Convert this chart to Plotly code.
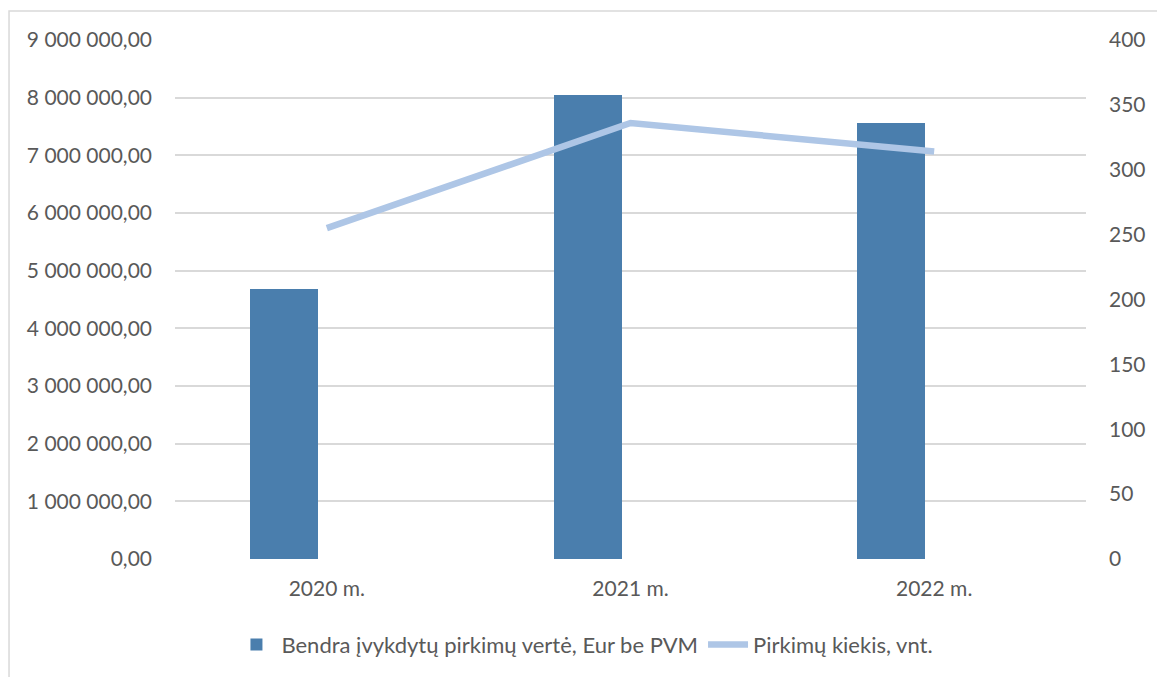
import plotly.graph_objects as go

categories = ["2020 m.", "2021 m.", "2022 m."]
value_eur = [4690000, 8050000, 7560000]
purchase_count = [255, 336, 314]
left_ticks = [0, 1000000, 2000000, 3000000, 4000000, 5000000, 6000000, 7000000, 8000000, 9000000]
left_tick_text = ["0,00", "1 000 000,00", "2 000 000,00", "3 000 000,00", "4 000 000,00",
                  "5 000 000,00", "6 000 000,00", "7 000 000,00", "8 000 000,00", "9 000 000,00"]
right_ticks = [0, 50, 100, 150, 200, 250, 300, 350, 400]

FONT = "Lato"
TXT = "#595959"
xs = list(range(len(categories)))

fig = go.Figure()
fig.add_trace(go.Bar(
    x=xs, y=value_eur, name="Bendra įvykdytų pirkimų vertė, Eur be PVM",
    marker=dict(color="#4a7ead", line=dict(width=0)),
    width=0.224, offset=-0.253, yaxis="y",
))
fig.add_trace(go.Scatter(
    x=xs, y=purchase_count, name="Pirkimų kiekis, vnt.", mode="lines",
    line=dict(color="#aec6e6", width=6.5), yaxis="y2",
))

fig.update_layout(
    width=1157, height=669,
    margin=dict(l=167, r=79, t=32, b=117),
    paper_bgcolor="white", plot_bgcolor="white",
    font=dict(family=FONT, size=21, color=TXT),
    bargap=0,
    xaxis=dict(
        range=[-0.5, 2.5], tickvals=xs, ticktext=categories,
        showgrid=False, zeroline=False, showline=False,
        ticks="", ticklabelstandoff=15,
        tickfont=dict(family=FONT, size=21, color=TXT),
    ),
    yaxis=dict(
        range=[0, 9000000], tickvals=left_ticks, ticktext=left_tick_text,
        showgrid=True, gridcolor="#d9d9d9", gridwidth=1.5,
        zeroline=False, showline=False, ticks="", ticklabelstandoff=22,
        tickfont=dict(family=FONT, size=21, color=TXT),
    ),
    yaxis2=dict(
        range=[0, 400], tickvals=right_ticks, overlaying="y", side="right",
        showgrid=False, zeroline=False, showline=False, ticks="", ticklabelstandoff=22,
        tickfont=dict(family=FONT, size=21, color=TXT),
    ),
    legend=dict(
        orientation="h", x=0.45, xanchor="center", y=-0.163, yanchor="middle",
        font=dict(family=FONT, size=22, color=TXT), itemwidth=40,
        traceorder="normal",
    ),
    showlegend=True,
    shapes=[dict(
        type="rect", xref="paper", yref="paper",
        x0=-0.1822, x1=1.0834, y0=-0.26, y1=1.0558,
        line=dict(color="#d9d9d9", width=1.5), fillcolor="rgba(0,0,0,0)", layer="below",
    )],
)

fig.write_html("out.html")
